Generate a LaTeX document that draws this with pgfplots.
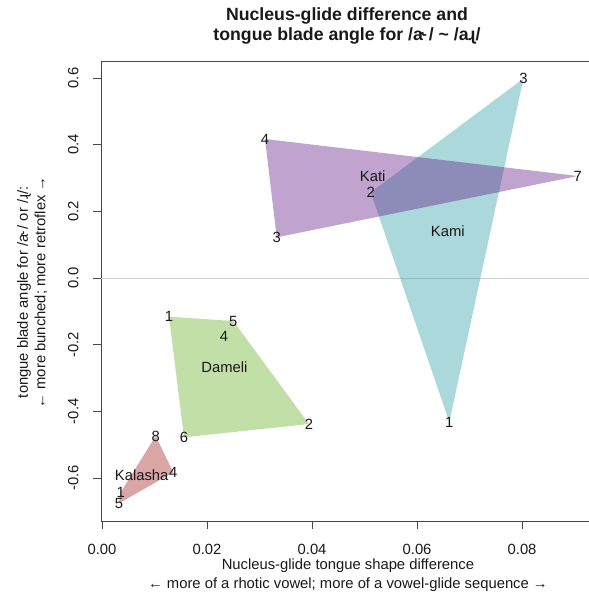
\documentclass[border=0pt]{standalone}
\usepackage{fontspec}
\setmainfont{Liberation Sans}
\usepackage{pgfplots}
\pgfplotsset{compat=1.18}
\definecolor{axisgray}{RGB}{70,70,70}
\definecolor{kamicol}{RGB}{42,157,165}
\definecolor{katicol}{RGB}{97,27,135}
\definecolor{damelicol}{RGB}{105,175,38}
\definecolor{kalashacol}{RGB}{160,30,30}
\definecolor{txt}{RGB}{25,25,25}
\newcommand{\lab}{\fontsize{14.8bp}{17bp}\selectfont}

\pgfplotstableread{
x y label
0.08025 0.598 3
0.05117 0.257 2
0.06614 -0.432 1
0.06585 0.141 Kami
0.03104 0.417 4
0.0906 0.306 7
0.03327 0.122 3
0.05155 0.304 Kati
0.01275 -0.116 1
0.0250 -0.129 5
0.02323 -0.174 4
0.03942 -0.438 2
0.01561 -0.478 6
0.02330 -0.268 Dameli
0.01022 -0.474 8
0.01357 -0.583 4
0.00355 -0.643 1
0.00323 -0.676 5
0.00755 -0.593 Kalasha
}\labels

\begin{document}
\begin{tikzpicture}
\useasboundingbox (-101bp,-75bp) rectangle (488bp,521bp);
\begin{axis}[
  scale only axis,
  width=489bp, height=460bp,
  xmin=-0.0002, xmax=0.09294,
  ymin=-0.729, ymax=0.651,
  clip=false,
  scaled x ticks=false, scaled y ticks=false,
  axis line style={draw=axisgray, line width=0.8bp},
  tick style={draw=axisgray, line width=0.8bp},
  tick align=outside,
  major tick length=8bp,
  xtick pos=bottom, ytick pos=left,
  xtick={0,0.02,0.04,0.06,0.08},
  xticklabels={0.00,0.02,0.04,0.06,0.08},
  ytick={-0.6,-0.4,-0.2,0,0.2,0.4,0.6},
  yticklabels={-0.6,-0.4,-0.2,0.0,0.2,0.4,0.6},
  xticklabel style={font=\lab, text=txt, anchor=base, yshift=-25.3bp},
  yticklabel style={font=\lab, text=txt, xshift=-14.7bp, rotate=90, anchor=base},
]
\addplot[draw=gray!35, line width=0.8bp] coordinates {(-0.0002,0) (0.0929,0)};

\addplot[draw=none, fill=kamicol, fill opacity=0.4]
  coordinates {(0.08025,0.598) (0.06614,-0.432) (0.05117,0.257)} -- cycle;
\addplot[draw=none, fill=katicol, fill opacity=0.4]
  coordinates {(0.03104,0.417) (0.0906,0.306) (0.03327,0.122)} -- cycle;
\addplot[draw=none, fill=damelicol, fill opacity=0.4]
  coordinates {(0.01275,-0.116) (0.0250,-0.129) (0.03942,-0.438) (0.01561,-0.478)} -- cycle;
\addplot[draw=none, fill=kalashacol, fill opacity=0.4]
  coordinates {(0.01022,-0.474) (0.01357,-0.583) (0.00323,-0.676) (0.00355,-0.643)} -- cycle;

\addplot[only marks, mark=none, nodes near coords, point meta=explicit symbolic,
  every node near coord/.style={anchor=center, font=\lab, text=txt, inner sep=0pt}]
  table[x=x, y=y, meta=label] {\labels};

\node[anchor=base, font=\bfseries\fontsize{17.7bp}{20bp}\selectfont, text=txt]
  at (axis description cs:0.503,1.087) {Nucleus-glide difference and};
\node[anchor=base, font=\bfseries\fontsize{17.7bp}{20bp}\selectfont, text=txt]
  at (axis description cs:0.503,1.0445) {tongue blade angle for /a˞/ \char"007E{} /aɻ/};

\node[anchor=base, font=\lab, text=txt]
  at (axis description cs:0.505,-0.1065) {Nucleus-glide tongue shape difference};
\node[anchor=base, font=\lab, text=txt]
  at (axis description cs:0.505,-0.1465) {← more of a rhotic vowel; more of a vowel-glide sequence →};

\node[anchor=base, rotate=90, font=\lab, text=txt]
  at (axis description cs:-0.1493,0.497) {tongue blade angle for /a˞/ or /ɻ/:};
\node[anchor=base, rotate=90, font=\lab, text=txt]
  at (axis description cs:-0.1135,0.497) {← more bunched; more retroflex →};
\end{axis}
\end{tikzpicture}
\end{document}
